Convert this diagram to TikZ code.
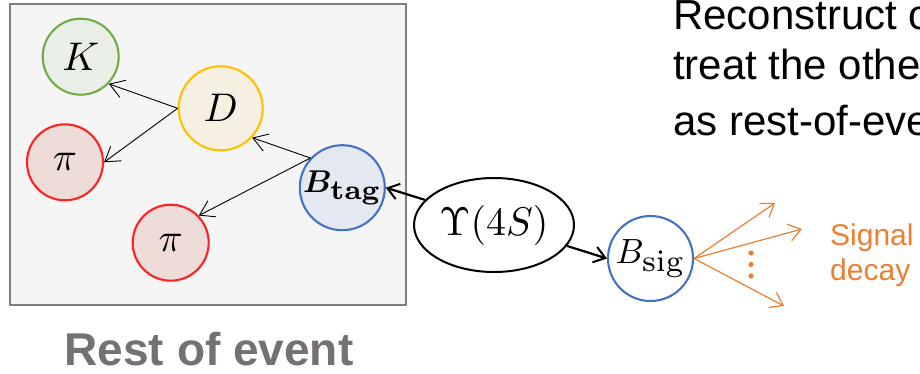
\documentclass[tikz,border=0pt]{standalone}
\usepackage{graphicx}
\usepackage{amsmath,bm}
\usepackage[no-math]{fontspec}
\newfontfamily\arialfont{Liberation Sans}
\usetikzlibrary{arrows.meta,shapes.geometric}
\newcommand{\mlab}[2]{\makebox[0pt]{\scalebox{#1}{$#2$}}}
\newcommand{\bigsub}[1]{\scalebox{1.25}{$\scriptstyle #1$}}
\definecolor{boxgray}{HTML}{7F7F7F}
\definecolor{boxfill}{HTML}{F5F5F5}
\definecolor{kgreen}{HTML}{70AD47}
\definecolor{kfill}{HTML}{E9EFE6}
\definecolor{dgold}{HTML}{FFC000}
\definecolor{dfill}{HTML}{F6F0E2}
\definecolor{pired}{HTML}{FF2222}
\definecolor{pifill}{HTML}{EEDCD9}
\definecolor{bblue}{HTML}{4472C4}
\definecolor{bfill}{HTML}{E4E8F1}
\definecolor{sorange}{HTML}{ED7D31}
\definecolor{roegray}{HTML}{767171}
\tikzset{
  particle/.style={circle,inner sep=0pt,line width=2.1pt},
  thinarrow/.style={line width=0.9pt,-{Straight Barb[length=14pt,width=18pt,line width=0.9pt]}},
  thickarrow/.style={line width=2.2pt,-{Straight Barb[length=11pt,width=16pt,line width=2pt]}},
  sigarrow/.style={sorange,line width=1.2pt,-{Straight Barb[length=12pt,width=17pt,line width=1.2pt]}},
  toptext/.style={anchor=base west,inner sep=0pt,font=\arialfont\fontsize{42}{42}\selectfont},
  sigtext/.style={anchor=base west,inner sep=0pt,text=sorange,font=\arialfont\fontsize{30}{30}\selectfont},
}
\begin{document}
\begin{tikzpicture}[x=1pt,y=-1pt]
\useasboundingbox (0,0) rectangle (920,373);
\clip (0,0) rectangle (920,373);
% box
\node[draw=boxgray,fill=boxfill,line width=2.5pt,minimum width=396pt,minimum height=301pt,inner sep=0pt] (box) at (208,154.5) {};
\node[anchor=base,inner sep=0pt,text=roegray,font=\arialfont\fontsize{46}{46}\selectfont\bfseries] (roe) at (209,365) {Rest of event};
% particles
\node[particle,draw=kgreen,fill=kfill,minimum size=76pt] (K) at (80.7,56.7) {\mlab{4}{K}};
\node[particle,draw=dgold,fill=dfill,minimum size=84pt] (D) at (220.7,108.3) {\mlab{4}{D}};
\node[particle,draw=pired,fill=pifill,minimum size=76pt] (pil) at (65,162.3) {\mlab{4}{\pi}};
\node[particle,draw=bblue,fill=bfill,minimum size=85pt] (Btag) at (342.3,187.7) {\mlab{3.15}{\bm{B}_{\bigsub{\mathbf{tag}}}}};
\node[particle,draw=pired,fill=pifill,minimum size=76pt] (pib) at (170.7,242.7) {\mlab{4}{\pi}};
\node[ellipse,draw=black,line width=2pt,minimum width=160pt,minimum height=94pt,inner sep=0pt] (U) at (494,225) {\mlab{4}{\Upsilon(4S)}};
\node[particle,draw=bblue,fill=white,minimum size=85pt] (Bsig) at (650.5,258.5) {\mlab{3.5}{B_{\bigsub{\mathrm{sig}}}}};
% decay arrows
\draw[thinarrow] (D.west) -- (K.-44);
\draw[thinarrow] (D.west) -- (pil.east);
\draw[thinarrow] (Btag.137) -- (D.-43);
\draw[thinarrow] (Btag.137) -- (pib.44);
\draw[thickarrow] (U.160) -- (Btag.east);
\draw[thickarrow] (U.-16) -- (Bsig.west);
% signal decay
\coordinate (s1) at (775,203);
\coordinate (s2) at (802,229);
\coordinate (s3) at (784,306);
\draw[sigarrow] (Bsig.east) -- (s1);
\draw[sigarrow] (Bsig.east) -- (s2);
\draw[sigarrow] (Bsig.east) -- (s3);
\fill[sorange] (751,253) circle (2.6pt) (751,264.5) circle (2.6pt) (751,276) circle (2.6pt);
\node[sigtext] (sig1) at (830,245) {Signal};
\node[sigtext] (sig2) at (830,280) {decay};
% top text
\node[toptext] (t1) at (673,29) {Reconstruct one};
\node[toptext] (t2) at (673,79) {treat the other};
\node[toptext] (t3) at (673,135) {as rest-of-event};
\end{tikzpicture}
\end{document}
